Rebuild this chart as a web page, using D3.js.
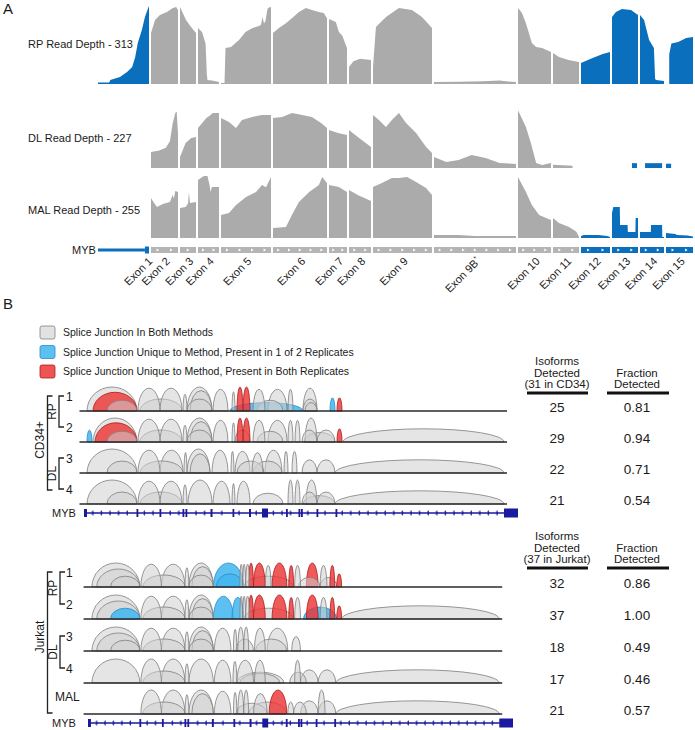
<!DOCTYPE html>
<html><head><meta charset="utf-8">
<script src="https://cdn.jsdelivr.net/npm/d3@7"></script>
<style>
body{margin:0;background:#fff;}
svg text{font-family:"Liberation Sans",Arial,Helvetica,sans-serif;fill:#1a1a1a;}
</style></head><body>
<svg id="c" width="695" height="730"></svg>
<script>
// ================= PANEL A DATA =================
const exonNames = ["Exon 1","Exon 2","Exon 3","Exon 4","Exon 5","Exon 6","Exon 7","Exon 8","Exon 9","Exon 9B","Exon 10","Exon 11","Exon 12","Exon 13","Exon 14","Exon 15"];
// collapsed exon lengths (relative units)
const exonLen = [51,27,16,21,50,54,18,22,59,82,33,26,29,26,24,27];
const exonHighlighted = [true,false,false,false,false,false,false,false,false,false,false,false,true,true,true,true];
const exon1UtrFraction = 0.92;
const sampleNames = ["RP","DL","MAL"];
const sampleMaxDepth = [313,227,255];
// coverage per exon: [position within exon (0-1), read depth]
const covRP = [
 [[0,6],[0.22,6],[0.24,16],[0.43,28],[0.57,48],[0.67,67],[0.73,107],[0.78,162],[0.86,214],[0.92,265],[1,310]],
 [[0,202],[0.15,254],[0.33,273],[0.59,285],[0.81,301],[0.93,305],[1,293]],
 [[0,305],[0.375,254],[0.69,226],[1,202]],
 [[0,222],[0.19,206],[0.36,160],[0.42,40],[0.45,16],[0.67,14],[1,8]],
 [[0,4],[0.07,4],[0.09,143],[0.2,147],[0.36,174],[0.49,206],[0.63,222],[0.76,230],[0.8,235],[0.83,265],[0.86,240],[0.89,250],[0.93,298],[0.96,303],[1,305]],
 [[0,202],[0.11,222],[0.24,241],[0.35,261],[0.48,285],[0.61,301],[0.72,293],[0.85,285],[0.94,281],[1,261]],
 [[0,258],[0.38,246],[0.55,206],[0.75,190],[0.9,160],[1,143]],
 [[0,67],[0.2,90],[0.5,100],[1,95]],
 [[0,67],[0.05,226],[0.22,265],[0.44,301],[0.66,293],[0.83,265],[1,222]],
 [[0,8],[0.3,9],[0.6,11],[0.8,14],[0.9,10],[1,8]],
 [[0,301],[0.12,281],[0.24,241],[0.33,202],[0.42,162],[0.55,147],[0.73,143],[1,127]],
 [[0,123],[0.23,107],[0.6,95],[1,87]],
 [[0,83],[0.4,103],[0.75,119],[1,127]],
 [[0,265],[0.15,285],[0.38,297],[0.73,293],[1,273]],
 [[0,273],[0.17,254],[0.38,174],[0.58,143],[0.63,20],[0.67,16],[1,12]],
 [[0.12,118],[0.2,160],[0.45,166],[0.75,182],[1,186]]
];
const covDL = [
 [],
 [[0,60],[0.3,65],[0.55,75],[0.7,100],[0.8,165],[0.9,205],[0.95,210],[1,130]],
 [[0,41],[0.35,93],[0.7,112],[1,115]],
 [[0,149],[0.2,167],[0.4,186],[0.6,197],[0.7,205],[1,205]],
 [[0,186],[0.16,171],[0.3,149],[0.42,179],[0.62,190],[0.82,197],[1,197]],
 [[0,186],[0.17,190],[0.35,205],[0.54,197],[0.72,190],[0.89,167],[1,149]],
 [[0,141],[0.5,130],[1,123]],
 [[0,141],[0.4,115],[1,78]],
 [[0,197],[0.1,179],[0.22,153],[0.32,179],[0.44,205],[0.56,167],[0.73,130],[0.9,78],[1,56]],
 [[0,41],[0.15,22],[0.3,30],[0.46,48],[0.63,37],[0.8,19],[1,15]],
 [[0,215],[0.24,153],[0.39,93],[0.55,19],[0.73,11],[1,19]],
 [[0,12],[0.75,8]],
 [],
 [[0.77,18],[0.96,18]],
 [[0.21,18],[0.92,18]],
 [[0,16],[0.19,16]]
];
const covMAL = [
 [],
 [[0,162],[0.09,146],[0.22,125],[0.44,138],[0.7,146],[0.8,174],[0.85,160],[0.9,190],[1,186]],
 [[0,121],[0.35,125],[0.5,140],[0.56,186],[0.62,142],[1,146]],
 [[0,235],[0.28,251],[0.45,251],[0.55,215],[0.6,186],[0.66,206],[1,206]],
 [[0,93],[0.16,101],[0.3,134],[0.5,166],[0.7,186],[0.82,215],[0.9,205],[1,247]],
 [[0,40],[0.24,45],[0.35,93],[0.48,146],[0.67,186],[0.85,215],[0.91,247],[1,223]],
 [[0,215],[0.55,206],[1,186]],
 [[0,194],[0.4,174],[1,150]],
 [[0,206],[0.15,223],[0.32,243],[0.44,243],[0.58,247],[0.73,227],[0.9,202],[1,174]],
 [[0,12],[0.3,12],[0.5,8],[1,8]],
 [[0,247],[0.24,186],[0.42,134],[0.64,93],[0.85,81],[1,73]],
 [[0,81],[0.23,61],[0.62,45],[0.9,25],[1,4]],
 [[0,8],[0.1,12],[0.6,12],[0.9,8],[1,4]],
 [[0,101],[0.05,125],[0.3,125],[0.31,53],[0.6,53],[0.61,24],[0.9,24],[0.91,81],[1,81]],
 [[0,24],[0.45,24],[0.46,53],[0.92,53],[0.93,4],[1,4]],
 [[0,20],[0.35,16],[0.4,12],[0.8,10],[1,6]]
];

// ================= PANEL B DATA =================
const legendLabels = ["Splice Junction In Both Methods","Splice Junction Unique to Method, Present in 1 of 2 Replicates","Splice Junction Unique to Method, Present in Both Replicates"];
const legendKeys = ["g","b","r"];
// MYB gene model (kb): exon blocks
const mybExonsKb = [[0,0.3],[5.25,5.4],[7.55,7.7],[9.85,10.0],[10.15,10.3],[12.65,12.85],[14.85,15.0],[16.5,16.7],[17.8,18.4],[20.2,20.35],[21.45,21.55],[21.7,21.85],[23.25,23.4],[25.15,25.3],[42.0,43.4]];
const mybLengthKb = 43.4;
// junctions: [start kb, end kb, relative support, class g/b/r]
const cd34Arcs = [
 [[0.3,5.3,1.0,"g"],[0.9,5.3,0.78,"r"],[2.3,5.3,0.45,"g"],[5.4,7.6,0.95,"g"],[7.6,9.8,0.95,"g"],[5.6,9.8,0.5,"g"],[9.9,10.3,0.7,"g"],[10.3,12.8,1.0,"g"],[10.6,12.8,0.85,"g"],[10.3,12.8,0.5,"g"],[12.9,14.4,0.9,"g"],[14.8,15.1,0.8,"g"],[15.3,15.9,1.0,"r"],[15.9,16.6,1.0,"r"],[14.6,21.9,0.35,"b"],[16.9,18.1,0.9,"g"],[18.4,20.3,0.9,"g"],[17.3,19.9,0.45,"g"],[20.4,20.9,0.9,"g"],[21.9,23.3,0.95,"g"],[21.9,23.3,0.5,"g"],[22.1,23.3,0.35,"g"],[24.6,25.1,0.55,"b"],[25.3,25.8,0.55,"r"]],
 [[0.3,0.8,0.5,"b"],[0.9,5.3,1.0,"g"],[1.1,5.3,0.8,"r"],[2.3,5.3,0.45,"g"],[5.4,7.6,0.95,"g"],[7.6,9.8,0.95,"g"],[5.6,9.8,0.5,"g"],[9.9,10.3,0.7,"g"],[10.3,12.8,1.0,"g"],[10.6,12.8,0.85,"g"],[10.3,12.8,0.5,"g"],[12.9,14.4,0.9,"g"],[14.8,15.1,0.8,"g"],[15.3,15.9,1.0,"r"],[15.9,16.6,1.0,"r"],[15.1,16.6,0.5,"g"],[16.9,18.1,0.9,"g"],[18.4,20.3,0.9,"g"],[17.3,19.9,0.45,"g"],[20.4,20.9,0.9,"g"],[21.1,21.6,0.9,"g"],[22.1,23.3,1.0,"g"],[21.8,23.3,0.5,"g"],[23.3,25.1,0.5,"g"],[22.0,25.1,0.4,"g"],[25.3,25.8,0.55,"r"],[25.9,42.0,0.55,"g"]],
 [[0.3,5.3,1.0,"g"],[2.3,5.3,0.5,"g"],[5.4,7.6,0.95,"g"],[7.6,9.9,0.95,"g"],[5.6,9.9,0.5,"g"],[10.0,10.3,0.85,"g"],[10.3,12.6,1.0,"g"],[10.6,12.6,0.8,"g"],[12.8,14.4,0.95,"g"],[14.7,15.0,0.9,"g"],[15.1,16.6,0.9,"g"],[15.3,18.0,0.5,"g"],[16.8,17.9,0.85,"g"],[18.1,19.8,0.95,"g"],[16.9,19.8,0.5,"g"],[20.0,20.4,0.9,"g"],[20.8,21.3,0.9,"g"],[21.8,23.3,0.55,"g"],[23.3,25.1,0.55,"g"],[25.1,42.0,0.55,"g"]],
 [[0.3,5.3,1.0,"g"],[2.3,5.3,0.5,"g"],[5.4,7.6,0.95,"g"],[7.6,9.8,0.95,"g"],[5.6,9.8,0.5,"g"],[9.9,10.3,0.8,"g"],[10.4,12.8,1.0,"g"],[12.9,14.6,0.95,"g"],[14.8,15.1,0.85,"g"],[15.3,16.6,0.95,"g"],[16.9,19.9,0.45,"g"],[20.4,20.9,1.0,"g"],[21.1,21.6,1.0,"g"],[22.2,23.3,1.0,"g"],[21.8,23.3,0.5,"g"],[23.3,25.1,0.5,"g"],[21.9,25.1,0.35,"g"],[25.1,42.0,0.55,"g"]]
];
const jurkatArcs = [
 [[0.4,5.3,1.0,"g"],[0.9,5.3,0.75,"g"],[2.3,5.3,0.45,"g"],[5.4,7.5,0.95,"g"],[7.5,9.9,0.95,"g"],[5.6,9.9,0.5,"g"],[9.9,10.3,0.8,"g"],[10.3,12.8,1.0,"g"],[10.6,12.8,0.85,"g"],[10.3,12.8,0.5,"g"],[12.8,15.9,1.0,"b"],[13.1,15.9,0.55,"b"],[15.5,15.8,0.95,"g"],[15.8,16.1,0.95,"g"],[16.1,16.5,0.95,"g"],[15.9,21.0,0.45,"g"],[16.4,16.9,1.0,"r"],[16.9,18.1,1.0,"r"],[18.1,18.7,0.9,"g"],[18.8,20.3,1.0,"r"],[20.5,21.0,0.9,"r"],[21.1,21.7,0.9,"g"],[21.5,23.7,0.4,"g"],[22.3,23.5,1.0,"r"],[23.7,24.4,0.9,"g"],[23.7,25.4,0.4,"g"],[24.7,25.2,0.9,"r"],[25.4,25.9,0.55,"r"]],
 [[0.4,5.3,1.0,"g"],[0.9,5.3,0.75,"g"],[2.3,5.3,0.45,"b"],[5.4,7.5,0.95,"g"],[7.5,9.9,0.95,"g"],[5.6,9.9,0.5,"g"],[9.9,10.3,0.8,"g"],[10.3,12.8,1.0,"g"],[10.6,12.8,0.85,"g"],[10.3,12.8,0.5,"g"],[12.8,14.85,0.95,"b"],[14.7,15.9,0.9,"b"],[15.5,15.8,0.95,"g"],[15.8,16.1,0.95,"g"],[16.1,16.5,0.95,"g"],[15.9,21.0,0.45,"g"],[16.4,16.9,1.0,"r"],[16.9,18.1,1.0,"r"],[18.8,20.3,1.0,"r"],[20.5,21.0,0.9,"r"],[21.1,21.7,0.9,"g"],[22.3,23.5,1.0,"r"],[22.0,25.4,0.5,"b"],[23.7,24.4,0.9,"g"],[24.7,25.2,0.9,"r"],[25.4,25.9,0.55,"r"],[25.9,42.0,0.55,"g"]],
 [[0.4,5.3,1.0,"g"],[0.9,5.3,0.75,"g"],[2.3,5.3,0.45,"g"],[5.4,7.5,0.95,"g"],[7.5,9.9,0.95,"g"],[5.6,9.9,0.5,"g"],[9.9,10.3,0.8,"g"],[10.3,12.8,1.0,"g"],[10.6,12.8,0.85,"g"],[10.3,12.8,0.5,"g"],[12.9,14.6,0.95,"g"],[14.85,15.2,0.9,"g"],[15.3,15.9,1.0,"g"],[15.9,16.4,1.0,"g"],[15.1,16.9,0.5,"g"],[17.0,18.1,0.95,"g"],[18.3,20.4,0.95,"g"],[17.1,20.3,0.5,"g"],[20.8,21.7,0.6,"g"]],
 [[0.4,5.3,1.0,"g"],[5.4,7.5,1.0,"g"],[7.5,9.9,1.0,"g"],[5.6,9.9,0.5,"g"],[9.9,10.3,0.8,"g"],[10.3,12.8,1.0,"g"],[12.9,14.6,0.95,"g"],[14.8,15.2,0.9,"g"],[15.2,16.9,0.95,"g"],[15.2,20.0,0.45,"g"],[15.5,19.6,0.4,"g"],[17.0,18.1,0.95,"g"],[21.1,21.7,0.95,"g"],[20.6,22.3,0.45,"g"],[21.7,23.5,0.55,"g"],[23.5,25.3,0.55,"g"],[25.3,42.0,0.55,"g"]],
 [[5.4,7.5,1.0,"g"],[7.5,9.9,1.0,"g"],[5.6,9.9,0.5,"g"],[9.9,10.3,0.8,"g"],[10.3,12.8,1.0,"g"],[10.6,12.8,0.85,"g"],[12.9,14.6,0.95,"g"],[14.85,15.2,0.9,"g"],[15.3,15.9,1.0,"g"],[15.9,16.4,1.0,"g"],[15.1,18.3,0.45,"g"],[16.9,18.3,0.85,"g"],[16.4,20.3,0.5,"g"],[18.5,20.3,1.0,"r"],[20.4,21.0,0.5,"g"],[21.0,22.3,0.5,"g"],[21.7,23.5,0.55,"g"],[23.5,24.2,1.0,"g"],[23.5,25.3,0.55,"g"],[25.3,42.0,0.55,"g"]]
];
const cd34RowLabels = ["1","2","3","4"];
const jurkatRowLabels = ["1","2","3","4","MAL"];
const cd34Isoforms = [25,29,22,21];
const cd34Fraction = ["0.81","0.94","0.71","0.54"];
const jurkatIsoforms = [32,37,18,17,21];
const jurkatFraction = ["0.86","1.00","0.49","0.46","0.57"];
const cd34Total = 31, jurkatTotal = 37;

// ================= STYLES =================
const BLUE = "#0a6fbd", GRAYA = "#ababab", GRAYBOX = "#b4b4b4", NAVY = "#1a1a9e";
const arcStyle = {
  g:{fill:"#cfcfcf", op:0.55, stroke:"#808080"},
  b:{fill:"#3fb6ee", op:0.85, stroke:"#2a8ccc"},
  r:{fill:"#ec3636", op:0.82, stroke:"#b01c1c"}
};

const svg = d3.select("#c");
svg.append("rect").attr("width",695).attr("height",730).attr("fill","#fff");

// ================= PANEL A =================
svg.append("text").attr("x",3).attr("y",14).attr("font-size",15).text("A");
const exonStart = [];
let acc = 0;
exonLen.forEach(l => { exonStart.push(acc); acc += l + 2; });
const totalA = acc - 2;
const xA = d3.scaleLinear().domain([0,totalA]).range([98,693]);
const trackLayout = [{base:84,h:79,ly:48},{base:168,h:61,ly:142},{base:238,h:63,ly:214}];
const covs = [covRP,covDL,covMAL];
const gA = svg.append("g");
sampleNames.forEach((nm,si)=>{
  const L = trackLayout[si];
  const y = d3.scaleLinear().domain([0,sampleMaxDepth[si]]).range([L.base, L.base-L.h]);
  covs[si].forEach((pts,i)=>{
    if(!pts.length) return;
    const area = d3.area()
      .x(p=>xA(exonStart[i]+p[0]*exonLen[i]))
      .y0(L.base).y1(p=>y(p[1]));
    gA.append("path").attr("d",area(pts)).attr("fill",exonHighlighted[i]?BLUE:GRAYA);
  });
  gA.append("text").attr("x",28).attr("y",L.ly).attr("font-size",11)
    .text(nm+" Read Depth - "+sampleMaxDepth[si]);
});
// gene model A
const gmY = 250;
gA.append("text").attr("x",72).attr("y",gmY+4).attr("font-size",11).text("MYB");
exonLen.forEach((l,i)=>{
  const x0 = xA(exonStart[i]), x1 = xA(exonStart[i]+l);
  const col = exonHighlighted[i]?BLUE:GRAYBOX;
  if(i===0){
    const xu = xA(exonStart[i]+l*exon1UtrFraction);
    gA.append("rect").attr("x",x0).attr("y",gmY-1.5).attr("width",xu-x0).attr("height",3).attr("fill",col);
    gA.append("rect").attr("x",xu).attr("y",gmY-3.5).attr("width",x1-xu).attr("height",7).attr("fill",col);
  } else {
    gA.append("rect").attr("x",x0).attr("y",gmY-3).attr("width",x1-x0).attr("height",6).attr("fill",col);
    const w = x1-x0, n = Math.max(1, Math.round(w/12));
    for(let k=0;k<n;k++){
      const cx = x0 + (k+0.5)*w/n;
      gA.append("path").attr("d",`M${cx-1.2},${gmY-1.6}L${cx+1.4},${gmY}L${cx-1.2},${gmY+1.6}Z`).attr("fill","#fff");
    }
  }
  const lc = i===0 ? exonStart[i]+l*(exon1UtrFraction+(1-exon1UtrFraction)/2) : exonStart[i]+l/2;
  const t = gA.append("text").attr("font-size",11).attr("text-anchor","end")
    .attr("transform",`translate(${xA(lc)+6},${gmY+12}) rotate(-45)`);
  if(exonNames[i]==="Exon 9B"){
    t.text("Exon 9B");
    t.append("tspan").attr("font-size",7).attr("dy",-4).text("*");
  } else t.text(exonNames[i]);
});

// ================= PANEL B =================
svg.append("text").attr("x",3).attr("y",309).attr("font-size",15).text("B");
legendLabels.forEach((lab,i)=>{
  const yy = 332 + i*19.5;
  const st = arcStyle[legendKeys[i]];
  svg.append("rect").attr("x",40).attr("y",yy-6).attr("width",15).attr("height",13).attr("rx",2)
    .attr("fill",st.fill).attr("fill-opacity",i===0?0.6:0.85).attr("stroke",st.stroke).attr("stroke-width",0.8);
  svg.append("text").attr("x",63).attr("y",yy+4).attr("font-size",10.5).text(lab);
});

function drawPanel(cfg){
  const xs = d3.scaleLinear().domain([0,mybLengthKb]).range(cfg.xr);
  const g = svg.append("g");
  cfg.arcs.forEach((row,ri)=>{
    const by = cfg.bases[ri];
    const sorted = row.slice().sort((a,b)=>(b[1]-b[0])*b[2]-(a[1]-a[0])*a[2]);
    sorted.forEach(a=>{
      const x0 = xs(a[0]), x1 = xs(a[1]), h = a[2]*24, st = arcStyle[a[3]];
      g.append("path")
        .attr("d",`M${x0},${by}A${(x1-x0)/2},${h} 0 0 1 ${x1},${by}Z`)
        .attr("fill",st.fill).attr("fill-opacity",st.op)
        .attr("stroke",st.stroke).attr("stroke-width",0.9).attr("stroke-opacity",0.9);
    });
    g.append("line").attr("x1",xs(-0.45)).attr("x2",xs(42.3)).attr("y1",by).attr("y2",by)
      .attr("stroke","#2a2a2a").attr("stroke-width",1.6);
    // row label
    const lab = cfg.rowLabels[ri];
    if(lab==="MAL") g.append("text").attr("x",55).attr("y",by-13).attr("font-size",12).text(lab);
    else g.append("text").attr("x",66).attr("y",by-10).attr("font-size",12).text(lab);
    // table values
    g.append("text").attr("x",557).attr("y",by+1).attr("font-size",13.5).attr("text-anchor","middle").text(cfg.iso[ri]);
    g.append("text").attr("x",637).attr("y",by+1).attr("font-size",13.5).attr("text-anchor","middle").text(cfg.frac[ri]);
  });
  // brackets
  const br = (x, y0, y1, tick) => {
    g.append("path").attr("d",`M${x+tick},${y0}H${x}V${y1}H${x+tick}`)
      .attr("fill","none").attr("stroke","#222").attr("stroke-width",1.3);
  };
  cfg.groups.forEach(gr=>{
    const y0 = cfg.bases[gr.rows[0]]-15, y1 = cfg.bases[gr.rows[1]]-15;
    br(gr.x, y0, y1, 5);
    g.append("text").attr("font-size",12).attr("text-anchor","middle")
      .attr("transform",`translate(${gr.x-3},${(y0+y1)/2}) rotate(-90)`).text(gr.name);
  });
  br(47.5, cfg.outer[0], cfg.outer[1], 5);
  g.append("text").attr("font-size",12).attr("text-anchor","middle")
    .attr("transform",`translate(44,${cfg.outerLabelY}) rotate(-90)`).text(cfg.cell);
  // gene model
  const gy = cfg.geneY;
  g.append("text").attr("x",52).attr("y",gy+4).attr("font-size",11).text("MYB");
  g.append("line").attr("x1",xs(0)).attr("x2",xs(mybLengthKb)).attr("y1",gy).attr("y2",gy)
    .attr("stroke",NAVY).attr("stroke-width",1.6);
  for(let k=0.9;k<41.7;k+=0.86){
    if(mybExonsKb.some(e=>k>e[0]-0.3&&k<e[1]+0.3)) continue;
    g.append("path").attr("d",`M${xs(k)},${gy-2.5}V${gy+2.5}M${xs(k)-1.3},${gy-1.3}L${xs(k)+0.6},${gy}L${xs(k)-1.3},${gy+1.3}`)
      .attr("stroke",NAVY).attr("stroke-width",0.9).attr("fill","none");
  }
  mybExonsKb.forEach((e,i)=>{
    const big = (e[1]-e[0])>0.5;
    const hh = big?4.5:4;
    const x0 = xs(e[0]), w = Math.max(1.8, xs(e[1])-x0);
    g.append("rect").attr("x",x0).attr("y",gy-hh).attr("width",w).attr("height",2*hh).attr("fill",NAVY);
  });
  // table header
  const hy = cfg.headY;
  [["Isoforms",0],["Detected",1],[`(${cfg.total} in ${cfg.short})`,2]].forEach(([t,k])=>
    g.append("text").attr("x",557).attr("y",hy+k*11.5).attr("font-size",11.5).attr("text-anchor","middle").text(t));
  [["Fraction",1],["Detected",2]].forEach(([t,k])=>
    g.append("text").attr("x",637).attr("y",hy+k*11.5).attr("font-size",11.5).attr("text-anchor","middle").text(t));
  g.append("line").attr("x1",527).attr("x2",588).attr("y1",hy+28).attr("y2",hy+28).attr("stroke","#111").attr("stroke-width",3);
  g.append("line").attr("x1",607).attr("x2",669).attr("y1",hy+28).attr("y2",hy+28).attr("stroke","#111").attr("stroke-width",3);
}

drawPanel({xr:[84,518], arcs:cd34Arcs, bases:[411,442,473,504], rowLabels:cd34RowLabels,
  iso:cd34Isoforms, frac:cd34Fraction, groups:[{name:"RP",rows:[0,1],x:59},{name:"DL",rows:[2,3],x:59}],
  outer:[396,490], outerLabelY:440, cell:"CD34+", geneY:513, headY:365, total:cd34Total, short:"CD34"});
drawPanel({xr:[88,513], arcs:jurkatArcs, bases:[587,619,651,683,714], rowLabels:jurkatRowLabels,
  iso:jurkatIsoforms, frac:jurkatFraction, groups:[{name:"RP",rows:[0,1],x:60},{name:"DL",rows:[2,3],x:60}],
  outer:[572,713], outerLabelY:637, cell:"Jurkat", geneY:723, headY:540, total:jurkatTotal, short:"Jurkat"});
</script>
</body></html>
